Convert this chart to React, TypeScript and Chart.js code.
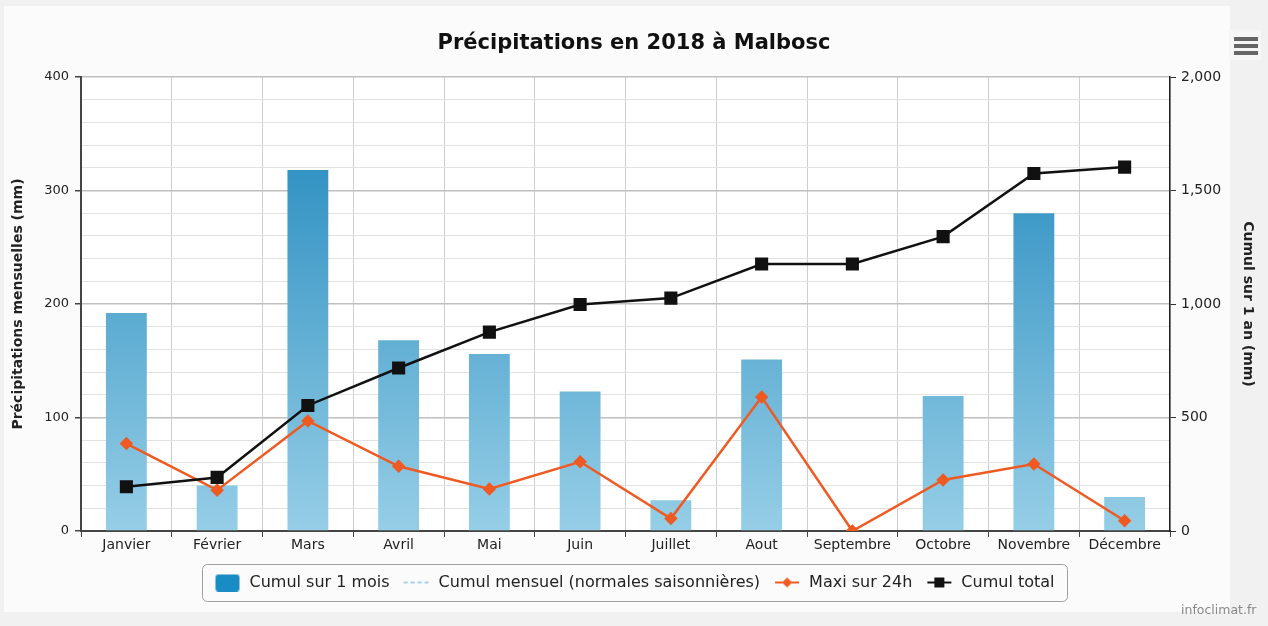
import React, { useEffect, useRef } from 'react';
import { Chart, registerables } from 'chart.js';

Chart.register(...registerables);

const months = ['Janvier', 'Février', 'Mars', 'Avril', 'Mai', 'Juin', 'Juillet', 'Aout', 'Septembre', 'Octobre', 'Novembre', 'Décembre'];
const cumulMois = [192, 40, 318, 168, 156, 123, 27, 151, 0, 119, 280, 30];
const normalesSaison: (number | null)[] = [];
const maxi24h = [77, 36, 97, 57, 37, 61, 11, 118, 0, 45, 59, 9];
const cumulTotal = [195, 236, 553, 718, 876, 998, 1026, 1176, 1176, 1297, 1575, 1603];
const leftTickLabels = ['0', '100', '200', '300', '400'];
const rightTickLabels = ['0', '500', '1,000', '1,500', '2,000'];

const titleText = 'Précipitations en 2018 à Malbosc';
const leftTitle = 'Précipitations mensuelles (mm)';
const rightTitle = 'Cumul sur 1 an (mm)';
const legendNames = ['Cumul sur 1 mois', 'Cumul mensuel (normales saisonnières)', 'Maxi sur 24h', 'Cumul total'];

const ORANGE = '#EF5A22';
const FONT = "'DejaVu Sans', Verdana, sans-serif";

function makeIcon(kind: string): HTMLCanvasElement {
  const c = document.createElement('canvas');
  c.width = 28;
  c.height = 18;
  const g = c.getContext('2d')!;
  if (kind === 'square') {
    g.fillStyle = '#1a8cc4';
    g.beginPath();
    (g as any).roundRect(2, 1, 24, 17, 3);
    g.fill();
  } else if (kind === 'dash') {
    g.strokeStyle = '#8cc6e6';
    g.lineWidth = 1.5;
    g.setLineDash([4, 3]);
    g.beginPath();
    g.moveTo(1, 9);
    g.lineTo(27, 9);
    g.stroke();
  } else if (kind === 'diamond') {
    g.strokeStyle = ORANGE;
    g.lineWidth = 2;
    g.beginPath();
    g.moveTo(2, 9);
    g.lineTo(26, 9);
    g.stroke();
    g.fillStyle = ORANGE;
    g.beginPath();
    g.moveTo(14, 4);
    g.lineTo(19, 9);
    g.lineTo(14, 14);
    g.lineTo(9, 9);
    g.closePath();
    g.fill();
  } else {
    g.strokeStyle = '#111';
    g.lineWidth = 2;
    g.beginPath();
    g.moveTo(2, 9);
    g.lineTo(26, 9);
    g.stroke();
    g.fillStyle = '#111';
    g.fillRect(9, 4, 10, 10);
  }
  return c;
}

const decorPlugin = {
  id: 'decor',
  beforeDraw(chart: any) {
    const { ctx, chartArea: ca, width, height } = chart;
    ctx.save();
    ctx.fillStyle = '#f1f1f1';
    ctx.fillRect(0, 0, width, height);
    ctx.fillStyle = '#fbfbfb';
    ctx.fillRect(4, 6, 1226, 606);
    ctx.fillStyle = '#ffffff';
    ctx.fillRect(ca.left, ca.top, ca.right - ca.left, ca.bottom - ca.top);
    // menu icon
    ctx.fillStyle = '#f6f6f6';
    ctx.fillRect(1229, 30, 32, 30);
    ctx.fillStyle = '#666';
    for (let i = 0; i < 3; i++) {
      ctx.fillRect(1234, 37 + i * 7, 24, 4);
    }
    ctx.restore();
  },
  afterDraw(chart: any) {
    const { ctx } = chart;
    const boxes = chart.legend && chart.legend.legendHitBoxes;
    if (boxes && boxes.length) {
      let minX = Infinity, maxX = -Infinity, cy = 0;
      boxes.forEach((b: any) => {
        minX = Math.min(minX, b.left);
        maxX = Math.max(maxX, b.left + b.width);
        cy = b.top + b.height / 2;
      });
      ctx.save();
      ctx.strokeStyle = '#a0a0a0';
      ctx.lineWidth = 1;
      ctx.beginPath();
      ctx.roundRect(Math.round(minX - 11) + 0.5, Math.round(cy - 18.5) + 0.5, Math.round(maxX - minX + 24), 37, 5);
      ctx.stroke();
      ctx.restore();
    }
    ctx.save();
    ctx.fillStyle = '#888';
    ctx.font = `12.5px ${FONT}`;
    ctx.textBaseline = 'middle';
    ctx.fillText('infoclimat.fr', 1181, 611);
    ctx.restore();
  },
};

export default function App() {
  const ref = useRef<HTMLCanvasElement>(null);
  useEffect(() => {
    document.body.style.margin = '0';
    const icons = [makeIcon('square'), makeIcon('dash'), makeIcon('diamond'), makeIcon('black')];
    const barGradient = (context: any) => {
      const chart = context.chart;
      const ca = chart.chartArea;
      if (!ca) return '#4aa3cc';
      const g = chart.ctx.createLinearGradient(0, ca.top, 0, ca.bottom);
      g.addColorStop(0, '#1a84bb');
      g.addColorStop(1, '#96cee6');
      return g;
    };
    const chart = new Chart(ref.current!, {
      data: {
        labels: months,
        datasets: [
          {
            type: 'line',
            label: legendNames[3],
            data: cumulTotal,
            yAxisID: 'y1',
            borderColor: '#111',
            backgroundColor: '#111',
            borderWidth: 2.5,
            pointStyle: 'rect',
            pointRadius: 7.5,
            pointHoverRadius: 7.5,
            tension: 0,
            order: 1,
          },
          {
            type: 'line',
            label: legendNames[2],
            data: maxi24h,
            yAxisID: 'y',
            borderColor: ORANGE,
            backgroundColor: ORANGE,
            borderWidth: 2.5,
            pointStyle: 'rectRot',
            pointRadius: 5,
            pointHoverRadius: 5,
            tension: 0,
            order: 2,
          },
          {
            type: 'line',
            label: legendNames[1],
            data: normalesSaison,
            yAxisID: 'y',
            borderColor: '#8cc6e6',
            borderDash: [4, 3],
            borderWidth: 1.5,
            pointRadius: 0,
            order: 3,
          },
          {
            type: 'bar',
            label: legendNames[0],
            data: cumulMois,
            yAxisID: 'y',
            backgroundColor: barGradient,
            borderWidth: 0,
            categoryPercentage: 1,
            barPercentage: 0.45,
            order: 4,
          },
        ] as any,
      },
      options: {
        animation: false,
        responsive: false,
        maintainAspectRatio: false,
        layout: { padding: { left: 0, right: 0, top: 0, bottom: 25.5 } },
        plugins: {
          tooltip: { enabled: false },
          title: {
            display: true,
            text: titleText,
            color: '#111',
            font: { family: FONT, size: 21, weight: 'bold' },
            padding: { top: 31.4, bottom: 20.4 },
          },
          legend: {
            display: true,
            position: 'bottom',
            labels: {
              color: '#222',
              font: { family: FONT, size: 16 },
              usePointStyle: true,
              pointStyleWidth: 28,
              padding: 13,
              generateLabels: () =>
                legendNames.map((name, i) => ({
                  text: name,
                  pointStyle: icons[i],
                  fillStyle: 'transparent',
                  strokeStyle: 'transparent',
                  lineWidth: 0,
                  hidden: false,
                  datasetIndex: 3 - i,
                  fontColor: '#222',
                })) as any,
            },
          },
        },
        scales: {
          x: {
            offset: true,
            afterFit: (s: any) => { s.height = 30.5; },
            grid: {
              offset: true,
              color: '#cfcfcf',
              lineWidth: 1,
              tickLength: 6,
              tickColor: '#444',
            },
            border: { color: '#444', width: 2 },
            ticks: {
              color: '#222',
              font: { family: FONT, size: 14 },
              padding: 0,
              maxRotation: 0,
              autoSkip: false,
            },
          },
          y: {
            position: 'left',
            min: 0,
            max: 400,
            afterFit: (s: any) => { s.width = 81; },
            ticks: {
              stepSize: 20,
              autoSkip: false,
              color: '#222',
              font: { family: FONT, size: 13 },
              padding: 6,
              callback: (v: any) => (Number(v) % 100 === 0 ? leftTickLabels[Number(v) / 100] : ''),
            },
            grid: {
              color: (c: any) => (c.tick && c.tick.value % 100 === 0 ? '#c0c0c0' : '#e2e2e2'),
              lineWidth: (c: any) => (c.tick && c.tick.value % 100 === 0 ? 1.5 : 1),
              tickLength: 6,
              tickColor: (c: any) => (c.tick && c.tick.value % 100 === 0 ? '#444' : 'transparent'),
            },
            border: { color: '#444', width: 2 },
            title: {
              display: true,
              text: leftTitle,
              color: '#222',
              font: { family: FONT, size: 14, weight: 'bold' },
              padding: { top: 10, bottom: 0 },
            },
          },
          y1: {
            position: 'right',
            min: 0,
            max: 2000,
            afterFit: (s: any) => { s.width = 98; },
            ticks: {
              stepSize: 500,
              color: '#222',
              font: { family: FONT, size: 14 },
              padding: 5,
              callback: (v: any) => rightTickLabels[Number(v) / 500],
            },
            grid: {
              drawOnChartArea: false,
              tickLength: 6,
              tickColor: '#333',
            },
            border: { color: '#222', width: 1.5 },
            title: {
              display: true,
              text: rightTitle,
              color: '#222',
              font: { family: FONT, size: 14, weight: 'bold' },
              padding: { top: 11.6, bottom: 0 },
            },
          },
        },
      } as any,
      plugins: [decorPlugin],
    });
    return () => chart.destroy();
  }, []);
  return <canvas ref={ref} width={1268} height={626} style={{ display: 'block' }} />;
}
